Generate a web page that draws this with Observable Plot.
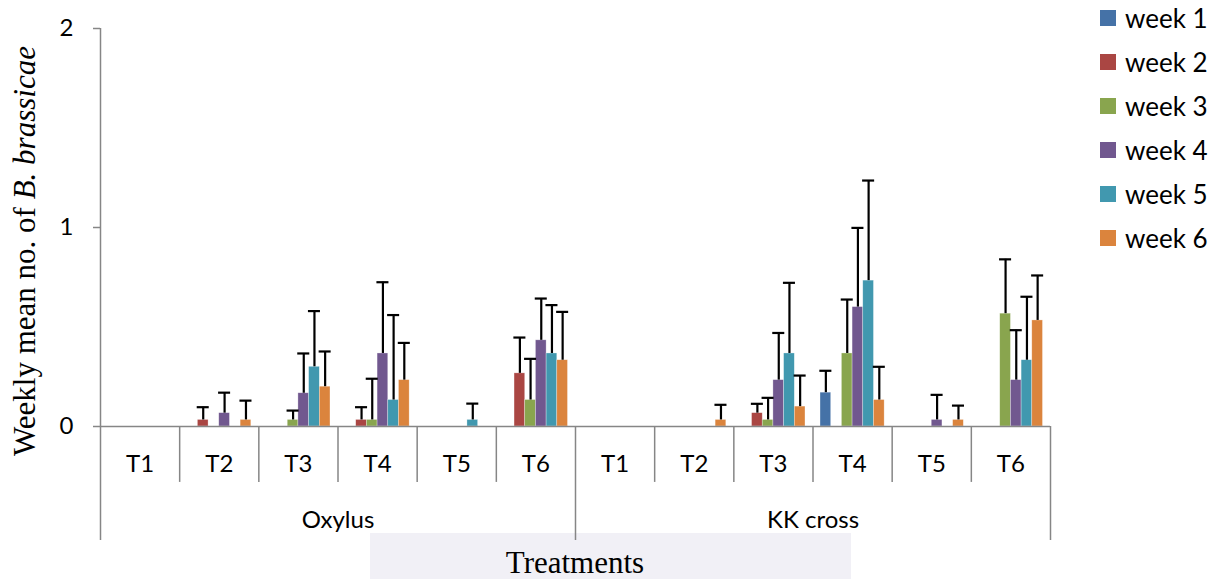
<!DOCTYPE html>
<html>
<head>
<meta charset="utf-8">
<script src="https://cdn.jsdelivr.net/npm/d3@7"></script>
<script src="https://cdn.jsdelivr.net/npm/@observablehq/plot@0.6"></script>
<style>
  html, body { margin: 0; padding: 0; background: #fff; }
  #wrap { position: relative; width: 1218px; height: 579px; overflow: hidden; }
  #legend { position: absolute; left: 1100px; top: -4px; font-family: Lato, "Open Sans", sans-serif; font-size: 26px; color: #000; }
  #legend .item { display: flex; align-items: center; height: 44px; }
  #legend .sw { width: 16px; height: 16px; margin-right: 9px; }
</style>
</head>
<body>
<div id="wrap"><div id="legend"></div></div>
<script>
// ---- data ----
const groups = ["Oxylus", "KK cross"];
const treatments = ["T1", "T2", "T3", "T4", "T5", "T6"];
const weeks = ["week 1", "week 2", "week 3", "week 4", "week 5", "week 6"];
const colors = ["#4572a7", "#aa4643", "#89a54e", "#71588f", "#4198af", "#db843d"];
const yTicks = [0, 1, 2];

// values per week: Oxylus T1..T6, then KK cross T1..T6
const week1Mean = [0, 0, 0, 0, 0, 0,      0, 0, 0, 0.17, 0, 0];
const week1Err  = [0, 0, 0, 0, 0, 0,      0, 0, 0, 0.11, 0, 0];
const week2Mean = [0, 0.033, 0, 0.033, 0, 0.267,   0, 0, 0.067, 0, 0, 0];
const week2Err  = [0, 0.064, 0, 0.064, 0, 0.18,    0, 0, 0.047, 0, 0, 0];
const week3Mean = [0, 0, 0.033, 0.033, 0, 0.133,   0, 0, 0.033, 0.367, 0, 0.567];
const week3Err  = [0, 0, 0.047, 0.207, 0, 0.207,   0, 0, 0.111, 0.271, 0, 0.273];
const week4Mean = [0, 0.067, 0.167, 0.367, 0, 0.433,   0, 0, 0.233, 0.6, 0.033, 0.233];
const week4Err  = [0, 0.103, 0.2, 0.358, 0, 0.21,      0, 0, 0.237, 0.398, 0.126, 0.251];
const week5Mean = [0, 0, 0.3, 0.133, 0.033, 0.367,     0, 0, 0.367, 0.733, 0, 0.333];
const week5Err  = [0, 0, 0.28, 0.427, 0.082, 0.243,    0, 0, 0.355, 0.503, 0, 0.319];
const week6Mean = [0, 0.033, 0.2, 0.233, 0, 0.333,     0, 0.033, 0.1, 0.133, 0.033, 0.533];
const week6Err  = [0, 0.097, 0.177, 0.187, 0, 0.243,   0, 0.076, 0.156, 0.167, 0.072, 0.226];

const means = [week1Mean, week2Mean, week3Mean, week4Mean, week5Mean, week6Mean];
const errs  = [week1Err, week2Err, week3Err, week4Err, week5Err, week6Err];

// ---- build table ----
const nT = treatments.length, nW = weeks.length;
const groupPad = 0.095;                 // fraction of a category left empty on each side
const barW = (1 - 2 * groupPad) / nW;   // width of one bar in category units
const capHalf = 0.076;

const cells = [];
groups.forEach((g, gi) => treatments.forEach((t, ti) => cells.push({g, t, idx: gi * nT + ti})));

const rows = [];
cells.forEach(c => weeks.forEach((w, wi) => {
  const m = means[wi][c.idx], e = errs[wi][c.idx];
  const x1 = c.idx + groupPad + wi * barW;
  rows.push({group: c.g, treatment: c.t, week: w, wi, mean: m, err: e, x1, x2: x1 + barW, xc: x1 + barW / 2});
}));
const bars = rows.filter(d => d.mean > 0);
const errRows = rows.filter(d => d.err > 0);

const nCat = cells.length;
const boundaries = d3.range(1, nCat + 1);
const shortDrop = -0.281, longDrop = -0.573;
const axisGrey = "#868686";

const plot = Plot.plot({
  width: 1218,
  height: 579,
  marginLeft: 100,
  marginRight: 168,
  marginTop: 28,
  marginBottom: 153,
  x: {domain: [0, nCat], axis: null},
  y: {domain: [0, 2], axis: null},
  style: {fontFamily: "Lato, 'Open Sans', sans-serif", background: "transparent", overflow: "visible"},
  marks: [
    Plot.rectY(bars, {x1: "x1", x2: "x2", y1: 0, y2: "mean", fill: d => colors[d.wi], stroke: "#fff", strokeOpacity: 0.5, strokeWidth: 0.6}),
    Plot.ruleY([0], {stroke: axisGrey, strokeWidth: 1.5}),
    Plot.ruleX(errRows, {x: "xc", y1: "mean", y2: d => d.mean + d.err, stroke: "#000", strokeWidth: 2.2}),
    Plot.ruleY(errRows, {y: d => d.mean + d.err, x1: d => d.xc - capHalf, x2: d => d.xc + capHalf, stroke: "#000", strokeWidth: 2.2}),
    // y axis line and ticks
    Plot.ruleX([0], {y1: 2, y2: longDrop, stroke: axisGrey, strokeWidth: 1.5}),
    Plot.axisY({ticks: yTicks, tickSize: 7, tickPadding: 20, fontSize: 24, stroke: axisGrey, strokeWidth: 1.5, label: null, tickFormat: d => String(d), color: "#000"}),
    // category separators
    Plot.ruleX(boundaries, {x: d => d, y1: 0, y2: d => d % nT === 0 ? longDrop : shortDrop, stroke: axisGrey, strokeWidth: 1.5}),
    // labels
    Plot.text(cells, {x: d => d.idx + 0.5, y: 0, dy: 38, text: "t", fontSize: 24, fill: "#000"}),
    Plot.text(groups, {x: (d, i) => i * nT + nT / 2, y: 0, dy: 94, text: d => d, fontSize: 24, fill: "#000"})
  ]
});

const svg = d3.select(plot);
// faint box behind the x-axis title (as in the source image)
svg.insert("rect", ":first-child")
  .attr("x", 370).attr("y", 533).attr("width", 481).attr("height", 46)
  .attr("fill", "#f1f0f6");

svg.append("text")
  .attr("x", 575).attr("y", 573)
  .attr("text-anchor", "middle")
  .attr("font-family", "'Liberation Serif', 'DejaVu Serif', serif")
  .attr("font-size", 31)
  .attr("fill", "#000")
  .text("Treatments");

const ylab = svg.append("text")
  .attr("transform", "translate(35,251) rotate(-90)")
  .attr("text-anchor", "middle")
  .attr("font-family", "'Liberation Serif', 'DejaVu Serif', serif")
  .attr("font-size", 31)
  .attr("fill", "#000");
ylab.append("tspan").text("Weekly mean no. of ");
ylab.append("tspan").attr("font-style", "italic").text("B. brassicae");

document.getElementById("wrap").prepend(plot);

const legend = document.getElementById("legend");
weeks.forEach((w, i) => {
  const item = document.createElement("div");
  item.className = "item";
  const sw = document.createElement("div");
  sw.className = "sw";
  sw.style.background = colors[i];
  const lab = document.createElement("span");
  lab.textContent = w;
  item.appendChild(sw);
  item.appendChild(lab);
  legend.appendChild(item);
});
</script>
</body>
</html>
